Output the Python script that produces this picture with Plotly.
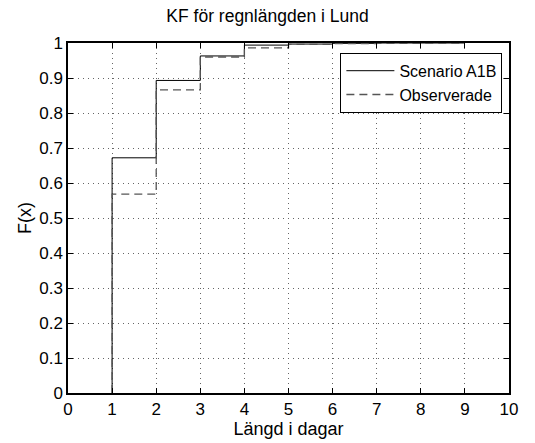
import plotly.graph_objects as go

days = [1, 2, 3, 4, 5, 6, 7, 8, 9]
scenario = [0, 0.672, 0.893, 0.963, 0.994, 0.997, 0.999, 1.0, 1.0]
observed = [0, 0.568, 0.866, 0.960, 0.986, 0.996, 0.998, 0.999, 0.9995]
xticks = list(range(0, 11))
yticks = [i / 10 for i in range(0, 11)]
yticklabels = ["0", "0.1", "0.2", "0.3", "0.4", "0.5", "0.6", "0.7", "0.8", "0.9", "1"]

fig = go.Figure()
fig.add_trace(go.Scatter(x=days, y=scenario, mode="lines", line_shape="vh",
                         name="Scenario A1B",
                         line=dict(color="black", width=1)))
fig.add_trace(go.Scatter(x=days, y=observed, mode="lines", line_shape="vh",
                         name="Observerade",
                         line=dict(color="#555555", width=1.3, dash="8px,5px")))

font = "Liberation Sans, Arial, Helvetica, sans-serif"
axis_common = dict(showline=True, linecolor="black", linewidth=1.5, mirror="ticks",
                   ticks="inside", ticklen=5, tickcolor="black",
                   showgrid=True, gridcolor="#666666", griddash="1px,4px", gridwidth=1,
                   zeroline=False, tickfont=dict(size=17, color="black", family=font))

fig.update_layout(
    width=535, height=443,
    margin=dict(l=68, r=26, t=43, b=50),
    paper_bgcolor="white", plot_bgcolor="white",
    font=dict(family=font, color="black"),
    title=dict(text="KF för regnlängden i Lund", x=0.5, xanchor="center",
               y=1 - 16 / 443, yanchor="middle", font=dict(size=17.5)),
    xaxis=dict(range=[0, 10], tickvals=xticks, ticktext=[str(t) for t in xticks],
               title=dict(text="Längd i dagar", font=dict(size=18), standoff=0),
               **axis_common),
    yaxis=dict(range=[0, 1], tickvals=yticks, ticktext=yticklabels,
               title=dict(text="F(x)", font=dict(size=18), standoff=3),
               **axis_common),
    legend=dict(x=0.985, y=0.972, xanchor="right", yanchor="top",
                bgcolor="white", bordercolor="black", borderwidth=1,
                font=dict(size=16), tracegroupgap=0, itemwidth=48),
    showlegend=True,
)

fig.write_html("out.html")
